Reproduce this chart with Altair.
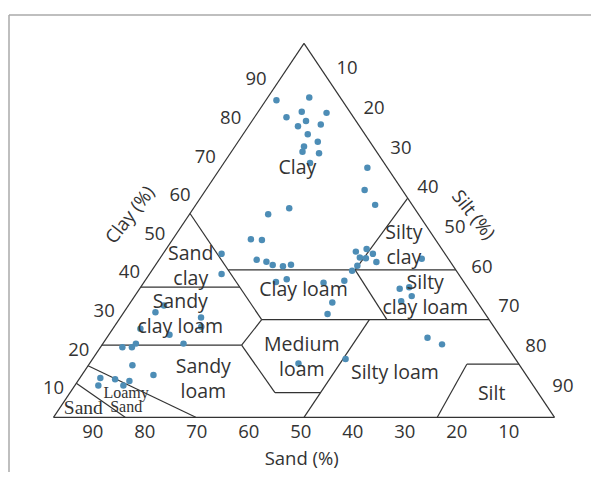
import altair as alt
import pandas as pd

# ---- sample compositions (%) ----
clay = [84.8, 85.5, 81.7, 81.4, 80.2, 79.2, 77.8, 78.3, 75.7, 73.7, 72.4, 71.0, 70.6, 68.0,
        66.7, 60.8, 56.8, 55.9, 54.3, 47.6, 47.4, 43.7, 38.3, 42.1, 41.6, 40.7, 40.4, 40.8,
        36.2, 36.9, 36.0, 36.5, 30.7, 27.6, 44.3, 45.0, 43.7, 42.7, 42.5, 41.5, 40.5, 39.2,
        42.4, 34.4, 34.8, 32.4, 31.0, 21.3, 19.5, 15.6, 14.4, 28.1, 29.9, 26.7, 24.2, 23.7,
        22.1, 19.7, 18.7, 18.7, 19.7, 13.9, 11.3, 10.5, 8.5, 10.2, 9.7, 8.5]
silt = [2.1, 8.3, 8.7, 13.8, 6.4, 10.8, 9.9, 14.2, 12.9, 15.9, 13.8, 14.2, 17.7, 17.2,
        29.3, 31.7, 35.8, 19.1, 15.7, 15.6, 17.9, 11.7, 14.4, 19.5, 21.7, 23.4, 25.6, 27.0,
        26.3, 28.1, 35.9, 39.8, 40.3, 40.9, 38.2, 40.0, 41.9, 39.8, 41.1, 43.7, 40.4, 40.0,
        52.3, 51.9, 53.6, 55.3, 53.9, 64.0, 67.8, 50.5, 41.7, 6.3, 7.1, 16.1, 17.4, 5.5,
        12.1, 16.1, 4.4, 6.3, 6.6, 8.8, 14.3, 4.1, 4.7, 7.2, 10.3, 9.7]

# ---- class boundaries: (clay1, silt1, clay2, silt2) ----
boundaries = [
    (0, 0, 0, 100), (0, 0, 100, 0), (100, 0, 0, 100),
    (0, 14.3, 9.1, 0), (0, 28.4, 13.8, 0),
    (19.3, 0, 19.3, 27.9), (19.3, 27.9, 6.6, 40.9), (6.6, 40.9, 6.6, 50),
    (0, 50, 26.1, 50), (19.3, 27.9, 26.1, 28.5), (54.5, 0, 26.1, 28.5),
    (34.8, 0, 34.8, 19.8), (39.4, 15.2, 39.4, 60.6), (26.1, 28.5, 26.1, 73.9),
    (39.4, 40.5, 26.1, 53.5), (39.4, 40.5, 58.6, 41.4),
    (0, 76.6, 14.2, 75.4), (14.2, 75.4, 14.2, 85.8),
]

# ---- class names and where they sit (clay, silt) ----
classes_one = ["Clay", "Clay loam", "Silty loam", "Silt"]
classes_one_at = [(66.6, 15.4), (34.0, 32.9), (11.9, 62.2), (6.3, 84.3)]
classes_two = ["Sand\nclay", "Sandy\nclay loam", "Sandy\nloam", "Medium\nloam",
               "Silty\nclay", "Silty\nclay loam"]
classes_two_at = [(40.4, 7.2), (27.6, 11.5), (10.0, 24.9), (16.1, 41.5),
                  (45.9, 47.0), (32.6, 57.9)]
classes_small = ["Loamy\nSand"]
classes_small_at = [(4.6, 12.2)]
classes_sand = ["Sand"]
classes_sand_at = [(2.4, 4.75)]

ticks = [10, 20, 30, 40, 50, 60, 70, 80, 90]


def tx(c, s):
    return s + c / 2.0


pts = pd.DataFrame({"clay": clay, "silt": silt})
pts["sand"] = (100 - pts["clay"] - pts["silt"]).round(1)
pts["x"] = [tx(c, s) for c, s in zip(clay, silt)]
pts["y"] = pts["clay"]

seg = pd.DataFrame([{"x": tx(c1, s1), "y": c1, "x2": tx(c2, s2), "y2": c2}
                    for c1, s1, c2, s2 in boundaries])


def lab_df(names, at):
    return pd.DataFrame([{"t": n, "x": tx(c, s), "y": c} for n, (c, s) in zip(names, at)])


# tick labels sit on a slightly enlarged triangle outside each side
sand_t = pd.DataFrame({"t": [str(v) for v in ticks],
                       "x": [101.26 - 1.038 * v for v in ticks], "y": [-4.0] * 9})
clay_t = pd.DataFrame({"t": [str(v) for v in ticks],
                       "x": [-5.05 + 0.5052 * v for v in ticks],
                       "y": [-2.57 + 1.0328 * v for v in ticks]})
silt_t = pd.DataFrame({"t": [str(v) for v in ticks],
                       "x": [53.19 + 0.5387 * v for v in ticks],
                       "y": [103.93 - 1.0608 * v for v in ticks]})

xs = alt.Scale(domain=[-9.082, 107.285], nice=False, zero=False)
ys = alt.Scale(domain=[-14.626, 109.439], nice=False, zero=False)
X = alt.X("x:Q", scale=xs, axis=None)
Y = alt.Y("y:Q", scale=ys, axis=None)

INK = "#333333"
SANS = "Open Sans"

lines = alt.Chart(seg).mark_rule(color=INK, strokeWidth=1.2).encode(
    x=X, y=Y, x2="x2:Q", y2="y2:Q")

dots = alt.Chart(pts).mark_circle(size=42, color="#4d8db6", opacity=1).encode(x=X, y=Y)


def texts(df, size, font=SANS, angle=0, lh=25, dy=0):
    return alt.Chart(df).mark_text(font=font, fontSize=size, color=INK, align="center",
                                   baseline="middle", lineBreak="\n", lineHeight=lh,
                                   angle=angle, dy=dy).encode(x=X, y=Y, text="t:N")


one_lab = texts(lab_df(classes_one, classes_one_at), 19.5)
two_lab = texts(lab_df(classes_two, classes_two_at), 19.5, lh=25, dy=-12.5)
small_lab = texts(lab_df(classes_small, classes_small_at), 16, font="Liberation Serif",
                  lh=13.5, dy=-6.7)
sand_lab = texts(lab_df(classes_sand, classes_sand_at), 19.5, font="Liberation Serif")

tick_layers = [texts(d, 18.5) for d in (sand_t, clay_t, silt_t)]

title_sand = texts(pd.DataFrame({"t": ["Sand (%)"], "x": [49.54], "y": [-11.23]}), 18.5)
title_clay = texts(pd.DataFrame({"t": ["Clay (%)"], "x": [15.3], "y": [54.1]}), 18.5, angle=308)
title_silt = texts(pd.DataFrame({"t": ["Silt (%)"], "x": [83.79], "y": [54.1]}), 18.5, angle=52)

one = pd.DataFrame({"k": [0]})
frame_top = alt.Chart(one).mark_rule(color="#aaaaaa", strokeWidth=1.5).encode(
    x=alt.value(1), x2=alt.value(583), y=alt.value(7), y2=alt.value(7))
frame_left = alt.Chart(one).mark_rule(color="#aaaaaa", strokeWidth=1.5).encode(
    x=alt.value(1), x2=alt.value(1), y=alt.value(7), y2=alt.value(464))

chart = alt.layer(frame_top, frame_left, lines, dots, one_lab, two_lab, small_lab, sand_lab,
                  *tick_layers, title_sand, title_clay, title_silt).properties(
    width=583, height=464, padding=0, autosize=alt.AutoSizeParams(type="none"),
    background="white"
).configure_view(stroke=None)

chart.save("out.html", embed_options={"renderer": "svg", "actions": False})
